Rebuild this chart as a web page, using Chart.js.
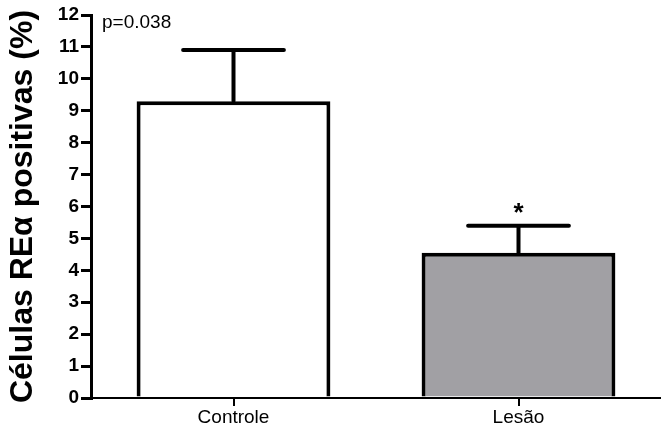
<!DOCTYPE html>
<html>
<head>
<meta charset="utf-8">
<script src="https://cdn.jsdelivr.net/npm/chart.js@4"></script>
<style>
  html, body { margin: 0; padding: 0; background: #fff; }
  #wrap { width: 661px; height: 436px; position: relative; }
</style>
</head>
<body>
<div id="wrap"><canvas id="chart"></canvas></div>
<script>
const groups = ["Controle", "Lesão"];
const means = [9.3, 4.55];
const errors = [1.6, 0.85];
const marks = ["", "*"];
const pText = "p=0.038";

// error bars + asterisk + p value
const extras = {
  id: "extras",
  afterDatasetsDraw(chart) {
    const ctx = chart.ctx;
    const y = chart.scales.y;
    const meta = chart.getDatasetMeta(0);
    ctx.save();
    ctx.strokeStyle = "#000";
    ctx.lineWidth = 4;
    ctx.lineCap = "round";
    meta.data.forEach((bar, i) => {
      const top = y.getPixelForValue(means[i] + errors[i]);
      const half = bar.width * 0.26;
      ctx.beginPath();
      ctx.moveTo(bar.x, bar.y);
      ctx.lineTo(bar.x, top);
      ctx.moveTo(bar.x - half, top);
      ctx.lineTo(bar.x + half, top);
      ctx.stroke();
      if (marks[i]) {
        ctx.fillStyle = "#000";
        ctx.font = "bold 26px 'Liberation Sans', Arial, sans-serif";
        ctx.textAlign = "center";
        ctx.textBaseline = "alphabetic";
        ctx.fillText(marks[i], bar.x, top - 5);
      }
    });
    ctx.fillStyle = "#000";
    ctx.font = "19px 'Liberation Sans', Arial, sans-serif";
    ctx.textAlign = "left";
    ctx.textBaseline = "top";
    ctx.fillText(pText, chart.chartArea.left + 11, chart.chartArea.top - 2);
    ctx.restore();
  }
};

new Chart(document.getElementById("chart"), {
  type: "bar",
  data: {
    labels: groups,
    datasets: [{
      data: means,
      backgroundColor: ["#ffffff", "#a1a0a4"],
      borderColor: "#000",
      borderWidth: 4,
      borderSkipped: "bottom",
      barPercentage: 0.68,
      categoryPercentage: 1.0
    }]
  },
  options: {
    responsive: true,
    maintainAspectRatio: false,
    animation: false,
    layout: { padding: { top: 15, right: 0, left: 0, bottom: 0 } },
    plugins: { legend: { display: false }, tooltip: { enabled: false } },
    scales: {
      x: {
        afterFit(s) { s.height = 38; },
        border: { color: "#000", width: 2 },
        grid: { offset: false, drawOnChartArea: false, color: "#000", lineWidth: 2, tickLength: 8 },
        ticks: {
          color: "#000",
          padding: 0,
          font: { family: "'Liberation Sans', Arial, sans-serif", size: 19 }
        }
      },
      y: {
        min: 0,
        max: 12,
        afterFit(s) { s.width = 91; },
        border: { color: "#000", width: 3 },
        grid: { drawOnChartArea: false, color: "#000", lineWidth: 3, tickLength: 10 },
        ticks: {
          stepSize: 1,
          color: "#000",
          padding: 2,
          font: { family: "'Liberation Sans', Arial, sans-serif", size: 19, weight: "bold" }
        },
        title: {
          display: true,
          text: "Células REα positivas (%)",
          color: "#000",
          padding: { top: 4, bottom: 0 },
          font: { family: "'Liberation Sans', Arial, sans-serif", size: 32, weight: "bold" }
        }
      }
    }
  },
  plugins: [extras]
});
</script>
</body>
</html>
